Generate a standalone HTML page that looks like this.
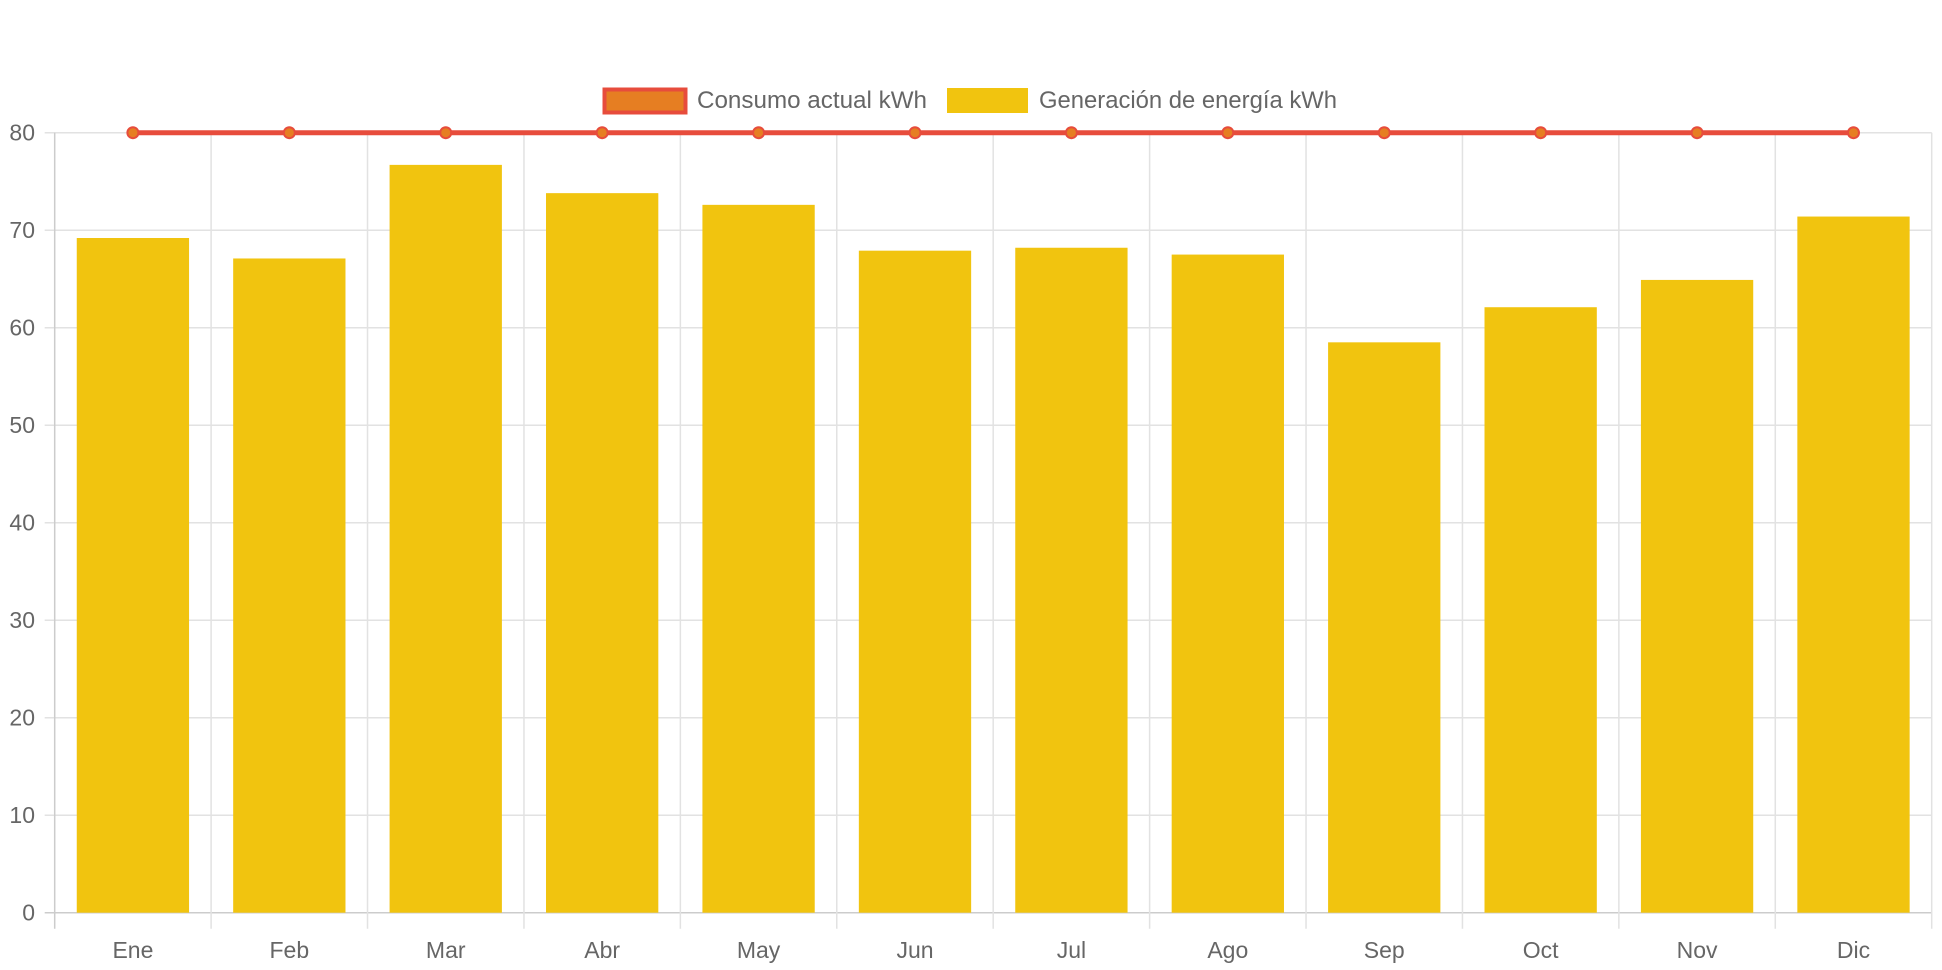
<!DOCTYPE html>
<html><head><meta charset="utf-8"><style>
html,body{margin:0;padding:0;background:#fff;}
svg{display:block;font-family:"Liberation Sans",Arial,sans-serif;}
</style></head><body>
<svg id="chart" width="1942" height="970">
<g id="legend">
 <g>
  <rect x="604.5" y="89.5" width="81" height="23" fill="#e67e22" stroke="#e74c3c" stroke-width="4"></rect>
  <text x="697" y="108" font-size="24" fill="#666" textLength="230" lengthAdjust="spacingAndGlyphs">Consumo actual kWh</text>
 </g>
 <g>
  <rect x="947" y="88" width="81" height="25" fill="#f1c40f"></rect>
  <text x="1039" y="108" font-size="24" fill="#666" textLength="298" lengthAdjust="spacingAndGlyphs">Generación de energía kWh</text>
 </g>
</g>
<g id="grid"></g>
<g id="bars"></g>
<g id="line"></g>
<g id="axes"></g>
</svg>
<script>
const categories=["Ene","Feb","Mar","Abr","May","Jun","Jul","Ago","Sep","Oct","Nov","Dic"];
const generacion=[69.2,67.1,76.7,73.8,72.6,67.9,68.2,67.5,58.5,62.1,64.9,71.4];
const consumo=[80,80,80,80,80,80,80,80,80,80,80,80];
const yTicks=[0,10,20,30,40,50,60,70,80];
const NS="http://www.w3.org/2000/svg";
const L=54.7,R=1931.7,T=132.7,B=912.7,yMax=80;
const cw=(R-L)/categories.length;
const y=v=>B-(v/yMax)*(B-T);
const xc=i=>L+cw*(i+0.5);
function mk(p,tag,a){const e=document.createElementNS(NS,tag);for(const k in a)e.setAttribute(k,a[k]);p.appendChild(e);return e;}
const grid=document.getElementById('grid'),axes=document.getElementById('axes');
yTicks.forEach(t=>{
 const ln=mk(grid,'line',{x1:L-10,x2:R,y1:y(t),y2:y(t),stroke:t===0?'#ccc':'#e2e2e2','stroke-width':1.5});
 
 
 const tx=mk(axes,'text',{x:35,y:y(t)+8,'text-anchor':'end','font-size':23,fill:'#666'});
 tx.textContent=t;
 
 
});
for(let i=0;i<=categories.length;i++){
 const x=L+cw*i;
 const ln=mk(grid,'line',{x1:x,x2:x,y1:T,y2:B+16,stroke:i===0?'#ccc':'#e2e2e2','stroke-width':1.5});
 
 
}
const bars=document.getElementById('bars');
generacion.forEach((v,i)=>{
 const bw=112.3;
 const r=mk(bars,'rect',{x:xc(i)-bw/2,y:y(v),width:bw,height:B-y(v),fill:'#f1c40f'});
 
 
});
categories.forEach((c,i)=>{
 const tx=mk(axes,'text',{x:xc(i),y:958,'text-anchor':'middle','font-size':23,fill:'#666'});
 tx.textContent=c;
 
 
});
const lg=document.getElementById('line');
const pl=mk(lg,'polyline',{points:consumo.map((v,i)=>xc(i)+','+y(v)).join(' '),fill:'none',stroke:'#e74c3c','stroke-width':5});


consumo.forEach((v,i)=>{
 const c=mk(lg,'circle',{cx:xc(i),cy:y(v),r:5.5,fill:'#e67e22',stroke:'#e74c3c','stroke-width':2});
 
 
});
</script>
</body></html>
